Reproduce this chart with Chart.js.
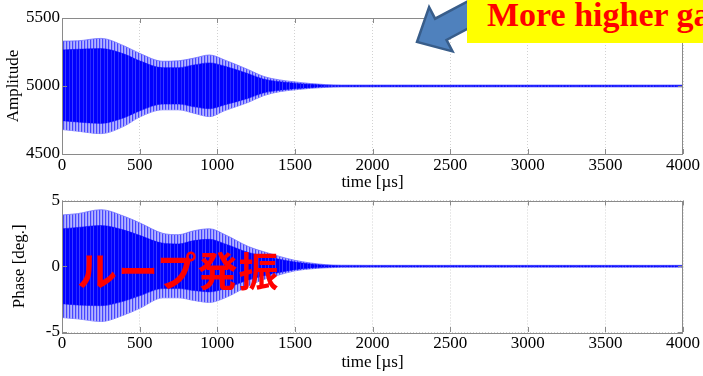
<!DOCTYPE html>
<html><head><meta charset="utf-8">
<script src="https://cdn.jsdelivr.net/npm/chart.js@4.4.0/dist/chart.umd.min.js"></script>
<style>
html,body{margin:0;padding:0;background:#fff;width:703px;height:376px;overflow:hidden;position:relative}
canvas{position:absolute;left:0}
#c1{top:0}
#c2{top:190px}
#arrow{position:absolute;left:0;top:0;width:703px;height:376px;pointer-events:none}
#note{position:absolute;left:467px;top:0;width:260px;height:43px;background:#ffff00;color:#ff0000;
 font-family:"Liberation Serif","Times New Roman",serif;font-weight:bold;font-size:34px;line-height:30px;letter-spacing:0px;
 padding-left:20px;white-space:nowrap;box-sizing:border-box}
#jp{position:absolute;left:77px;top:249px;color:#ff0000;font-family:"Noto Sans CJK JP",sans-serif;font-weight:bold;
 font-size:40px;line-height:40px;letter-spacing:1px;white-space:nowrap}
</style></head>
<body>
<canvas id="c1" width="703" height="193"></canvas>
<canvas id="c2" width="703" height="186"></canvas>
<svg id="arrow" viewBox="0 0 703 376">
 <polygon points="417,42 429.1,7.2 435.1,18.7 486.3,-8.5 497.7,12.7 446.5,39.9 452.5,51.4" fill="#4f81bd" stroke="#385d8a" stroke-width="2.5" stroke-linejoin="miter"/>
</svg>
<div id="note">More higher gain</div>
<div id="jp">ループ発振</div>
<script>
// ---- data ----
const timeUs = [0,100,250,400,500,650,750,850,950,1050,1200,1300,1400,1500,1600,1700,1800,2000,2500,3000,3500,4000];
const xTicks = [0,500,1000,1500,2000,2500,3000,3500,4000];

const ampTicks = [4500,5000,5500];
const ampOuterHi = [5330,5332,5350,5295,5240,5182,5185,5205,5228,5190,5120,5070,5045,5030,5018,5010,5007,5007,5007,5007,5007,5007];
const ampOuterLo = [4680,4668,4650,4705,4772,4825,4825,4800,4775,4820,4880,4930,4958,4972,4983,4990,4993,4993,4993,4993,4993,4993];
const ampInnerHi = [5265,5270,5275,5235,5185,5135,5135,5155,5170,5145,5090,5050,5032,5021,5012,5006,5004,5004,5004,5004,5004,5004];
const ampInnerLo = [4745,4735,4725,4767,4817,4867,4867,4847,4833,4862,4910,4950,4968,4980,4988,4994,4996,4996,4996,4996,4996,4996];

const phaseTicks = [-5,0,5];
const phaseOuterHi = [3.9,4.0,4.3,3.8,3.3,2.5,2.4,2.7,2.85,2.4,1.5,1.1,0.75,0.45,0.25,0.12,0.08,0.07,0.07,0.07,0.07,0.07];
const phaseOuterLo = [-3.9,-4.0,-4.2,-3.7,-3.2,-2.4,-2.4,-2.6,-2.75,-2.4,-1.5,-1.0,-0.65,-0.35,-0.2,-0.12,-0.08,-0.07,-0.07,-0.07,-0.07,-0.07];
const phaseInnerHi = [2.85,2.95,3.1,2.75,2.35,1.75,1.7,1.95,2.05,1.7,1.05,0.78,0.53,0.32,0.17,0.08,0.04,0.04,0.04,0.04,0.04,0.04];
const phaseInnerLo = [-2.85,-2.95,-3.0,-2.65,-2.25,-1.7,-1.7,-1.85,-1.95,-1.7,-1.05,-0.72,-0.48,-0.26,-0.14,-0.08,-0.04,-0.04,-0.04,-0.04,-0.04,-0.04];

// ---- rendering ----
const FONT = "'Liberation Serif','Times New Roman',serif";
function pattern(cols){
  const c=document.createElement('canvas'); c.width=cols.length; c.height=1;
  const g=c.getContext('2d');
  cols.forEach((col,i)=>{g.fillStyle=col; g.fillRect(i,0,1,1);});
  return g.createPattern(c,'repeat');
}
const outerFill = pattern(['#4646ff','#9c9cff','#b4b4ff']);
const innerFill = pattern(['#0000ff','#0000ff','#3a3aff','#0000ff','#0000ff','#0000ff','#2626ff']);
const pts = arr => timeUs.map((t,i)=>({x:t,y:arr[i]}));

const boxPlugin = {
  id:'box',
  afterDatasetsDraw(chart){
    const {ctx, chartArea:{left,right,top,bottom}, scales:{x,y}} = chart;
    ctx.save();
    ctx.strokeStyle='#8a8a8a'; ctx.lineWidth=1;
    ctx.beginPath();
    x.ticks.forEach(t=>{const p=Math.round(x.getPixelForValue(t.value))+0.5;
      ctx.moveTo(p,bottom); ctx.lineTo(p,bottom-5); ctx.moveTo(p,top); ctx.lineTo(p,top+5);});
    y.ticks.forEach(t=>{const p=Math.round(y.getPixelForValue(t.value))+0.5;
      ctx.moveTo(left,p); ctx.lineTo(left+5,p); ctx.moveTo(right,p); ctx.lineTo(right-5,p);});
    ctx.stroke();
    ctx.strokeRect(Math.round(left)+0.5, Math.round(top)+0.5, Math.round(right-left)-1, Math.round(bottom-top));
    ctx.restore();
  }
};

function makeChart(id, oHi, oLo, iHi, iLo, yTicks, yTitle, cfg){
  const ymin=yTicks[0], ymax=yTicks[yTicks.length-1];
  return new Chart(document.getElementById(id), {
    type:'line',
    data:{datasets:[
      {data:pts(iHi), fill:'+1', backgroundColor:innerFill, borderColor:'#0000ff', borderWidth:0.5, pointRadius:0, cubicInterpolationMode:'monotone', order:0},
      {data:pts(iLo), fill:false, borderColor:'#0000ff', borderWidth:0.5, pointRadius:0, cubicInterpolationMode:'monotone', order:0},
      {data:pts(oHi), fill:'+1', backgroundColor:outerFill, borderColor:'rgba(110,110,255,0.8)', borderWidth:1, pointRadius:0, cubicInterpolationMode:'monotone', order:1},
      {data:pts(oLo), fill:false, borderColor:'rgba(110,110,255,0.8)', borderWidth:1, pointRadius:0, cubicInterpolationMode:'monotone', order:1}
    ]},
    options:{
      responsive:false, animation:false, devicePixelRatio:1,
      layout:{padding:{left:0,right:17,top:cfg.padTop,bottom:0}},
      plugins:{legend:{display:false},tooltip:{enabled:false},filler:{propagate:false}},
      scales:{
        x:{type:'linear',min:0,max:4000,
          afterBuildTicks:s=>{s.ticks=xTicks.map(v=>({value:v}));},
          afterFit:s=>{s.height=cfg.xH;},
          ticks:{font:{family:FONT,size:17,lineHeight:1},color:'#000',padding:cfg.xTickPad,maxRotation:0,autoSkip:false,callback:v=>String(v)},
          grid:{drawTicks:false,color:'#d2d2d2',lineWidth:1},
          border:{display:false,dash:[1,2]},
          title:{display:true,text:'time [µs]',font:{family:FONT,size:17,lineHeight:1.2},color:'#000',padding:{top:0,bottom:cfg.xTitlePad}}
        },
        y:{type:'linear',min:ymin,max:ymax,
          afterBuildTicks:s=>{s.ticks=yTicks.map(v=>({value:v}));},
          afterFit:s=>{s.width=62;},
          ticks:{font:{family:FONT,size:17,lineHeight:1},color:'#000',padding:2,callback:v=>String(v)},
          grid:{drawTicks:false,color:'#d2d2d2',lineWidth:1},
          border:{display:false,dash:[1,2]},
          title:{display:true,text:yTitle,font:{family:FONT,size:17,lineHeight:1.2},color:'#000',padding:{top:cfg.yTitlePad,bottom:0}}
        }
      }
    },
    plugins:[boxPlugin]
  });
}
makeChart('c1', ampOuterHi, ampOuterLo, ampInnerHi, ampInnerLo, ampTicks, 'Amplitude', {padTop:18, xH:39, xTickPad:3, xTitlePad:0, yTitlePad:3});
makeChart('c2', phaseOuterHi, phaseOuterLo, phaseInnerHi, phaseInnerLo, phaseTicks, 'Phase [deg.]', {padTop:7, xH:44, xTickPad:3, xTitlePad:3, yTitlePad:9});
</script>
</body></html>
